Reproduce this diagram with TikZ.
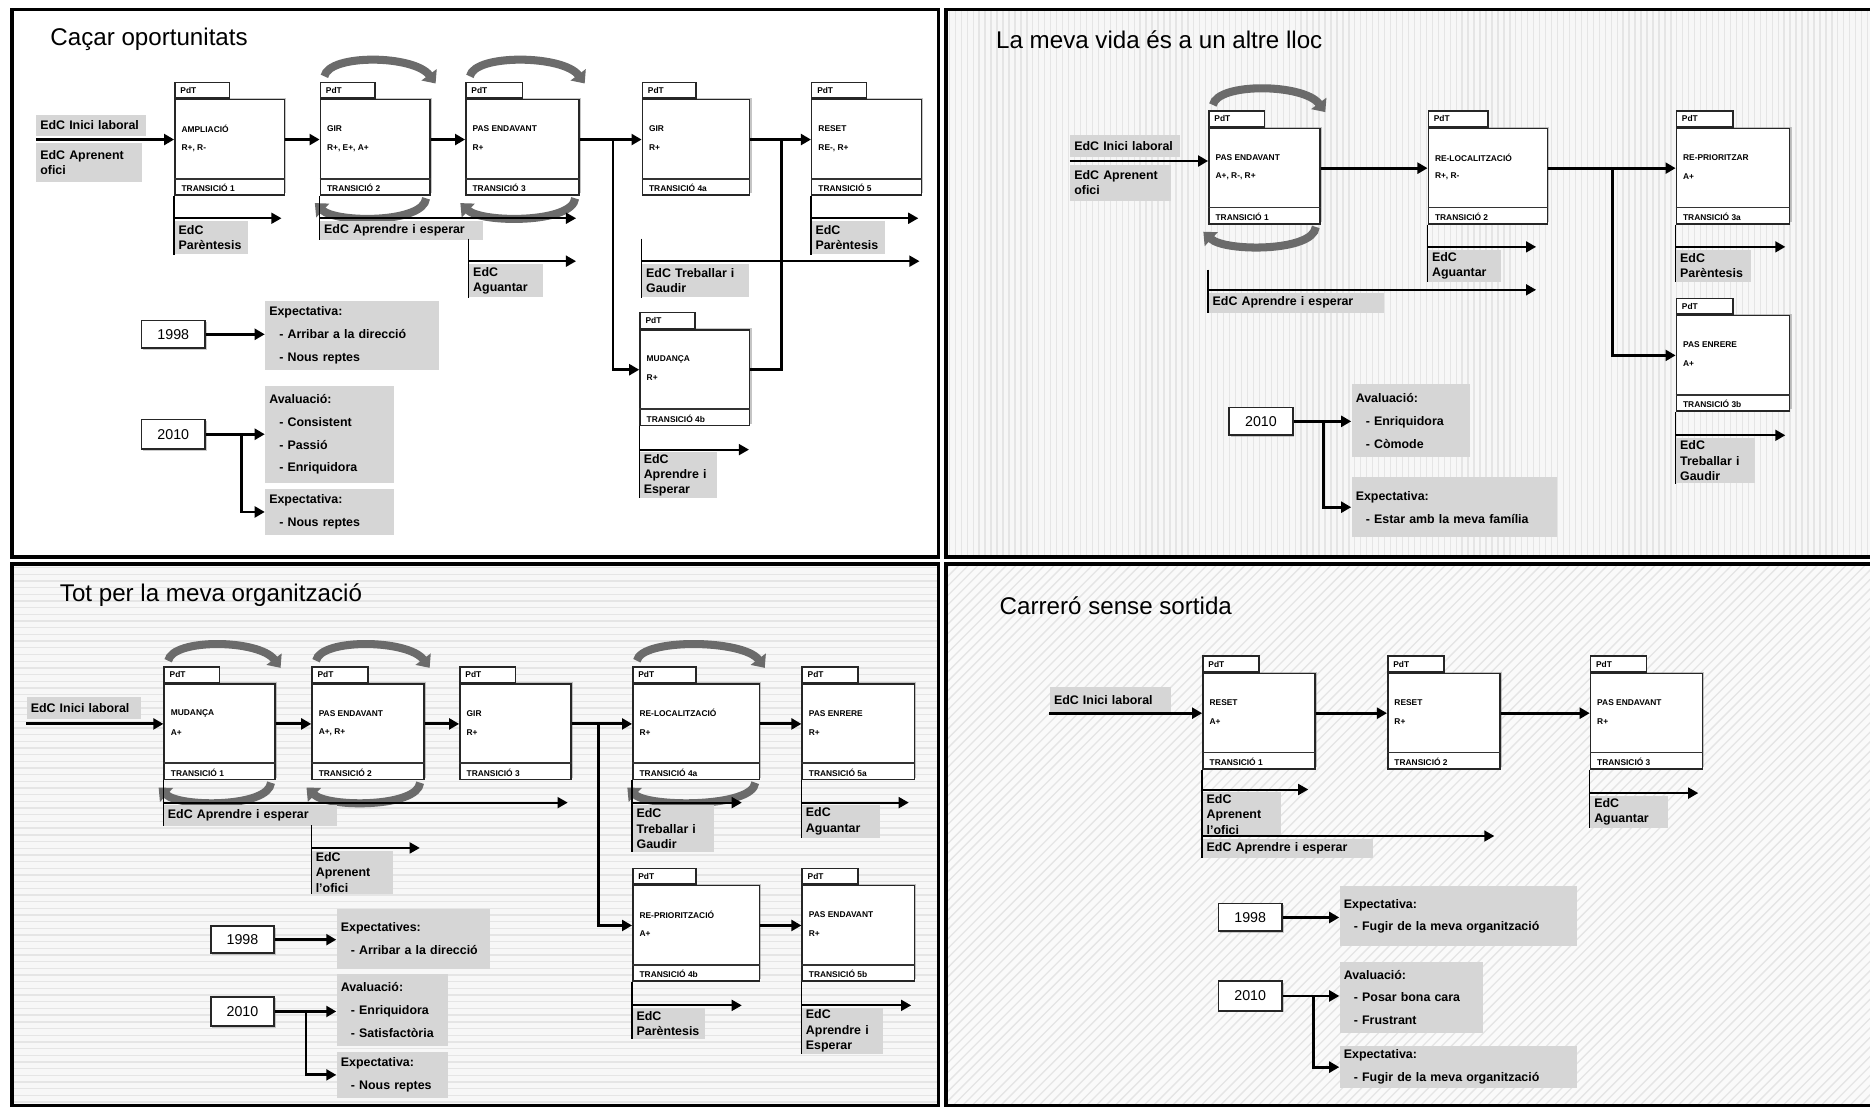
\documentclass[tikz,border=0pt]{standalone}
\usepackage{fontspec}
\setmainfont{Liberation Sans}
\usetikzlibrary{positioning,arrows.meta,calc,shadows}

\newcommand{\boxfont}{\fontsize{5}{6}\selectfont\bfseries}
\newcommand{\edcfont}{\fontsize{7.4}{9.2}\selectfont\bfseries}
\newcommand{\listfont}{\fontsize{7.4}{13.6}\selectfont\bfseries}
\newcommand{\itm}{\hspace*{6pt}- }

% process box: name, x, y (top of main box), width, title, code, transicio
\newcommand{\pdt}[7]{%
  \pgfmathsetlengthmacro\pw{#4*0.025cm}%
  \pgfmathsetlengthmacro\tw{#4*0.0125cm}%
  \node[pbox, minimum width=\pw, anchor=north west] (#1) at (#2,#3) {};
  \node[ptab, minimum width=\tw, anchor=south west] (#1-tab) at (#1.north west) {};
  \node[ptext] (#1-p) at ($(#1-tab.west)+(5,0)$) {PdT};
  \draw[band] ($(#1.north west)+(0,67)$) -- ($(#1.north east)+(0,67)$);
  \node[ptext] (#1-n) at ($(#1.north west)+(6,25)$) {#5};
  \node[ptext] (#1-c) at ($(#1.north west)+(6,41)$) {#6};
  \node[ptext] (#1-r) at ($(#1.south west)+(6,-6.5)$) {#7};
  \coordinate (#1-in) at ($(#1.north west)+(0,34)$);
  \coordinate (#1-out) at ($(#1.north east)+(0,34)$);
}
% grey label: name, x, y, width, height, font, text
\newcommand{\tagbox}[7]{%
  \pgfmathsetlengthmacro\tagw{#4*0.025cm-5pt}%
  \pgfmathsetlengthmacro\tagh{#5*0.025cm}%
  \node[tag, text width=\tagw, minimum height=\tagh, font=#6] (#1) at (#2,#3) {#7};
}
% EdC arrow along the top of a label
\newcommand{\edcout}[2]{%
  \coordinate (#1-end) at ($(#1.north west)+(#2,-2)$);
  \draw[edc] ($(#1.north west)+(0,-2)$) -- (#1-end);
}
% round arrows over and under a box
\newcommand{\turns}[1]{%
  \draw[turn] ($(#1.north west)+(4,-19)$) .. controls ($(#1.north west)+(8,-38)$) and ($(#1.north east)+(-14,-37)$) .. ($(#1.north east)+(4,-13)$);
  \draw[turn] ($(#1.south east)+(-4,2)$) .. controls ($(#1.south east)+(-6,23)$) and ($(#1.south west)+(14,23)$) .. ($(#1.south west)+(-4,6)$);
}

\begin{document}
\begin{tikzpicture}[
  x=0.025cm, y=-0.025cm,
  panel/.style={draw=black, line width=2.2pt},
  stripe/.style={draw=black!10, line width=0.8pt},
  title/.style={anchor=west, inner sep=0pt, font=\fontsize{14.4}{16}\selectfont},
  pbox/.style={draw=black!85, line width=0.9pt, fill=white, minimum height=2cm, inner sep=0pt,
    drop shadow={shadow xshift=1.1pt, shadow yshift=1.1pt, fill=black!45}},
  ptab/.style={draw=black!85, line width=0.9pt, fill=white, minimum height=0.33cm, inner sep=0pt},
  ptext/.style={anchor=west, inner sep=0pt, font=\boxfont},
  band/.style={draw=black!80, line width=1.1pt},
  tag/.style={fill=black!16, align=left, anchor=north west, inner xsep=2.5pt, inner ysep=1pt},
  year/.style={draw=black!85, line width=1pt, fill=white, anchor=north west, minimum width=1.33cm, inner sep=0pt,
    font=\fontsize{8.5}{10}\selectfont, drop shadow={shadow xshift=1pt, shadow yshift=-1pt, fill=black!40}},
  flow/.style={line width=1.7pt, -{Triangle[length=6pt,width=6.5pt]}},
  merge/.style={line width=1.7pt},
  edc/.style={line width=1.2pt, -{Triangle[length=6pt,width=6.5pt]}},
  stem/.style={line width=0.8pt},
  turn/.style={draw=black!58, line width=4.8pt, -{Triangle[length=6.5pt,width=11pt]}}
]
\useasboundingbox (0,0) rectangle (1568,928);

% backgrounds
\fill[white] (0,0) rectangle (1568,928);
\fill[black!3] (793,8) rectangle (1568,467);
\foreach \i in {796,801,...,1566} \draw[stripe] (\i,8) -- (\i,467);
\fill[black!3] (10,473) rectangle (787,928);
\foreach \j in {476,481.6,...,926} \draw[stripe] (10,\j) -- (787,\j);
\fill[black!2] (793,473) rectangle (1568,928);
\begin{scope}
  \clip (793,473) rectangle (1568,928);
  \foreach \i in {334,342,...,1570} \draw[stripe] (\i,928) -- ++(455,-455);
\end{scope}

% --- Caçar oportunitats
\node[title] (q1title) at (42,33) {Caçar oportunitats};
\pdt{q1a}{146}{83}{92}{AMPLIACIÓ}{R+, R-}{TRANSICIÓ 1}
\pdt{q1b}{268}{83}{92}{GIR}{R+, E+, A+}{TRANSICIÓ 2}
\pdt{q1c}{390}{83}{95}{PAS ENDAVANT}{R+}{TRANSICIÓ 3}
\pdt{q1d}{538}{83}{90}{GIR}{R+}{TRANSICIÓ 4a}
\pdt{q1e}{680}{83}{92}{RESET}{RE-, R+}{TRANSICIÓ 5}
\pdt{q1f}{536}{276}{92}{MUDANÇA}{R+}{TRANSICIÓ 4b}
\turns{q1b}
\turns{q1c}
\tagbox{q1i}{30}{96}{92}{18}{\edcfont}{EdC Inici laboral}
\tagbox{q1o}{30}{120}{89}{32}{\edcfont}{EdC Aprenent\\ofici}
\coordinate (q1s) at (30,117);
\draw[flow] (q1s) -- (q1a-in);
\draw[flow] (q1a-out) -- (q1b-in);
\draw[flow] (q1b-out) -- (q1c-in);
\draw[flow] (q1c-out) -- (q1d-in);
\draw[flow] (q1d-out) -- (q1e-in);
\coordinate (q1j) at (514,117);
\draw[flow] (q1j) |- (q1f-in);
\coordinate (q1m) at (655,117);
\draw[merge] (q1f-out) -| (q1m);
\tagbox{q1pa}{146}{185}{62}{28}{\edcfont}{EdC\\Parèntesis}
\draw[stem] (q1a.south west) -- (q1pa.south west);
\edcout{q1pa}{90}
\tagbox{q1ae}{268}{185}{137}{16}{\edcfont}{EdC Aprendre i esperar}
\draw[stem] (q1b.south west) -- (q1ae.south west);
\edcout{q1ae}{215}
\tagbox{q1ag}{393}{221}{62}{28}{\edcfont}{EdC\\Aguantar}
\draw[stem] ($(q1ag.north west)+(0,-21)$) -- (q1ag.south west);
\edcout{q1ag}{90}
\tagbox{q1tg}{538}{221}{90}{28}{\edcfont}{EdC Treballar i\\Gaudir}
\draw[stem] ($(q1tg.north west)+(0,-21)$) -- (q1tg.south west);
\edcout{q1tg}{233}
\tagbox{q1pe}{680}{185}{62}{28}{\edcfont}{EdC\\Parèntesis}
\draw[stem] (q1e.south west) -- (q1pe.south west);
\edcout{q1pe}{90}
\tagbox{q1ap}{536}{379}{65}{38}{\edcfont}{EdC\\Aprendre i\\Esperar}
\draw[stem] (q1f.south west) -- (q1ap.south west);
\edcout{q1ap}{92}
\node[year, minimum height=0.58cm] (q1y1) at (118,268) {1998};
\node[year, minimum height=0.62cm] (q1y2) at (118,351) {2010};
\tagbox{q1e1}{222}{252}{146}{58}{\listfont}{Expectativa:\\\itm Arribar a la direcció\\\itm Nous reptes}
\tagbox{q1v}{222}{323}{108}{82}{\listfont}{Avaluació:\\\itm Consistent\\\itm Passió\\\itm Enriquidora}
\tagbox{q1x}{222}{410}{108}{38}{\listfont}{Expectativa:\\\itm Nous reptes}
\draw[flow] (q1y1.east) -- (q1y1.east -| q1e1.west);
\draw[flow] (q1y2.east) -- (q1y2.east -| q1v.west);
\coordinate (q1k) at ($(q1y2.east)+(30,0)$);
\draw[flow] (q1k) |- (q1x.west);

% --- La meva vida és a un altre lloc
\node[title] (q2title) at (835,33) {La meva vida és a un altre lloc};
\pdt{q2a}{1013}{107}{93}{PAS ENDAVANT}{A+, R-, R+}{TRANSICIÓ 1}
\pdt{q2b}{1197}{107}{100}{RE-LOCALITZACIÓ}{R+, R-}{TRANSICIÓ 2}
\pdt{q2c}{1405}{107}{95}{RE-PRIORITZAR}{A+}{TRANSICIÓ 3a}
\pdt{q2d}{1405}{264}{95}{PAS ENRERE}{A+}{TRANSICIÓ 3b}
\turns{q2a}
\tagbox{q2i}{897}{113}{92}{18}{\edcfont}{EdC Inici laboral}
\tagbox{q2o}{897}{138}{85}{30}{\edcfont}{EdC Aprenent\\ofici}
\coordinate (q2s) at (897,135);
\draw[flow] (q2s) -- (q2s -| q2a.west);
\draw[flow] (q2a-out) -- (q2b-in);
\draw[flow] (q2b-out) -- (q2c-in);
\coordinate (q2j) at (1352,141);
\draw[flow] (q2j) |- (q2d-in);
\tagbox{q2ae}{1013}{245}{147}{17}{\edcfont}{EdC Aprendre i esperar}
\draw[stem] ($(q2ae.north west)+(0,-19)$) -- (q2ae.south west);
\edcout{q2ae}{275}
\tagbox{q2ag}{1197}{209}{61}{27}{\edcfont}{EdC\\Aguantar}
\draw[stem] (q2b.south west) -- (q2ag.south west);
\edcout{q2ag}{91}
\tagbox{q2pc}{1405}{209}{63}{27}{\edcfont}{EdC\\Parèntesis}
\draw[stem] (q2c.south west) -- (q2pc.south west);
\edcout{q2pc}{92}
\tagbox{q2tg}{1405}{367}{66}{38}{\edcfont}{EdC\\Treballar i\\Gaudir}
\draw[stem] (q2d.south west) -- (q2tg.south west);
\edcout{q2tg}{92}
\node[year, minimum height=0.58cm] (q2y) at (1030,341) {2010};
\tagbox{q2v}{1133}{322}{99}{61}{\listfont}{Avaluació:\\\itm Enriquidora\\\itm Còmode}
\tagbox{q2x}{1133}{400}{172}{50}{\listfont}{Expectativa:\\\itm Estar amb la meva família}
\draw[flow] (q2y.east) -- (q2y.east -| q2v.west);
\coordinate (q2k) at ($(q2y.east)+(25,0)$);
\draw[flow] (q2k) |- (q2x.west);

% --- Tot per la meva organització
\node[title] (q3title) at (50,499) {Tot per la meva organització};
\pdt{q3a}{137}{573}{93}{MUDANÇA}{A+}{TRANSICIÓ 1}
\pdt{q3b}{261}{573}{94}{PAS ENDAVANT}{A+, R+}{TRANSICIÓ 2}
\pdt{q3c}{385}{573}{93}{GIR}{R+}{TRANSICIÓ 3}
\pdt{q3d}{530}{573}{106}{RE-LOCALITZACIÓ}{R+}{TRANSICIÓ 4a}
\pdt{q3e}{672}{573}{94}{PAS ENRERE}{R+}{TRANSICIÓ 5a}
\pdt{q3f}{530}{742}{106}{RE-PRIORITZACIÓ}{A+}{TRANSICIÓ 4b}
\pdt{q3g}{672}{742}{94}{PAS ENDAVANT}{R+}{TRANSICIÓ 5b}
\turns{q3a}
\turns{q3b}
\turns{q3d}
\tagbox{q3i}{22}{584}{96}{19}{\edcfont}{EdC Inici laboral}
\coordinate (q3s) at (22,607);
\draw[flow] (q3s) -- (q3a-in);
\draw[flow] (q3a-out) -- (q3b-in);
\draw[flow] (q3b-out) -- (q3c-in);
\draw[flow] (q3c-out) -- (q3d-in);
\draw[flow] (q3d-out) -- (q3e-in);
\coordinate (q3j) at (502,607);
\draw[flow] (q3j) |- (q3f-in);
\draw[flow] (q3f-out) -- (q3g-in);
\tagbox{q3ae}{137}{675}{145}{17}{\edcfont}{EdC Aprendre i esperar}
\draw[stem] (q3a.south west) -- (q3ae.south west);
\edcout{q3ae}{339}
\tagbox{q3ao}{261}{713}{68}{36}{\edcfont}{EdC\\Aprenent\\l'ofici}
\draw[stem] ($(q3ao.north west)+(0,-21)$) -- (q3ao.south west);
\edcout{q3ao}{91}
\tagbox{q3tg}{530}{675}{68}{39}{\edcfont}{EdC\\Treballar i\\Gaudir}
\draw[stem] (q3d.south west) -- (q3tg.south west);
\edcout{q3tg}{92}
\tagbox{q3ag}{672}{675}{66}{27}{\edcfont}{EdC\\Aguantar}
\draw[stem] (q3e.south west) -- (q3ag.south west);
\edcout{q3ag}{90}
\tagbox{q3pf}{530}{845}{61}{26}{\edcfont}{EdC\\Parèntesis}
\draw[stem] (q3f.south west) -- (q3pf.south west);
\edcout{q3pf}{92}
\tagbox{q3ap}{672}{845}{68}{38}{\edcfont}{EdC\\Aprendre i\\Esperar}
\draw[stem] (q3g.south west) -- (q3ap.south west);
\edcout{q3ap}{92}
\node[year, minimum height=0.56cm] (q3y1) at (176,776) {1998};
\node[year, minimum height=0.62cm] (q3y2) at (176,835) {2010};
\tagbox{q3e1}{282}{762}{129}{50}{\listfont}{Expectatives:\\\itm Arribar a la direcció}
\tagbox{q3v}{282}{816}{93}{61}{\listfont}{Avaluació:\\\itm Enriquidora\\\itm Satisfactòria}
\tagbox{q3x}{282}{882}{93}{38}{\listfont}{Expectativa:\\\itm Nous reptes}
\draw[flow] (q3y1.east) -- (q3y1.east -| q3e1.west);
\draw[flow] (q3y2.east) -- (q3y2.east -| q3v.west);
\coordinate (q3k) at ($(q3y2.east)+(26,0)$);
\draw[flow] (q3k) |- (q3x.west);

% --- Carreró sense sortida
\node[title] (q4title) at (838,508) {Carreró sense sortida};
\pdt{q4a}{1008}{564}{94}{RESET}{A+}{TRANSICIÓ 1}
\pdt{q4b}{1163}{564}{94}{RESET}{R+}{TRANSICIÓ 2}
\pdt{q4c}{1333}{564}{94}{PAS ENDAVANT}{R+}{TRANSICIÓ 3}
\tagbox{q4i}{880}{576}{102}{21}{\edcfont}{EdC Inici laboral}
\coordinate (q4s) at (880,598);
\draw[flow] (q4s) -- (q4a-in);
\draw[flow] (q4a-out) -- (q4b-in);
\draw[flow] (q4b-out) -- (q4c-in);
\tagbox{q4ao}{1008}{664}{66}{37}{\edcfont}{EdC\\Aprenent\\l'ofici}
\tagbox{q4ae}{1008}{703}{143}{16}{\edcfont}{EdC Aprendre i esperar}
\draw[stem] (q4a.south west) -- (q4ae.south west);
\edcout{q4ao}{89}
\edcout{q4ae}{245}
\tagbox{q4ag}{1333}{667}{65}{27}{\edcfont}{EdC\\Aguantar}
\draw[stem] (q4c.south west) -- (q4ag.south west);
\edcout{q4ag}{91}
\node[year, minimum height=0.58cm] (q4y1) at (1021,757) {1998};
\node[year, minimum height=0.62cm] (q4y2) at (1021,822) {2010};
\tagbox{q4e1}{1123}{743}{199}{50}{\listfont}{Expectativa:\\\itm Fugir de la meva organització}
\tagbox{q4v}{1123}{806}{120}{60}{\listfont}{Avaluació:\\\itm Posar bona cara\\\itm Frustrant}
\tagbox{q4x}{1123}{877}{199}{35}{\listfont}{Expectativa:\\\itm Fugir de la meva organització}
\draw[flow] (q4y1.east) -- (q4y1.east -| q4e1.west);
\draw[flow] (q4y2.east) -- (q4y2.east -| q4v.west);
\coordinate (q4k) at ($(q4y2.east)+(26,0)$);
\draw[flow] (q4k) |- (q4x.west);

% frames
\draw[panel] (10,8) rectangle (787,467);
\draw[panel] (793,8) rectangle (1575,467);
\draw[panel] (10,473) rectangle (787,927);
\draw[panel] (793,473) rectangle (1575,927);
\end{tikzpicture}
\end{document}
